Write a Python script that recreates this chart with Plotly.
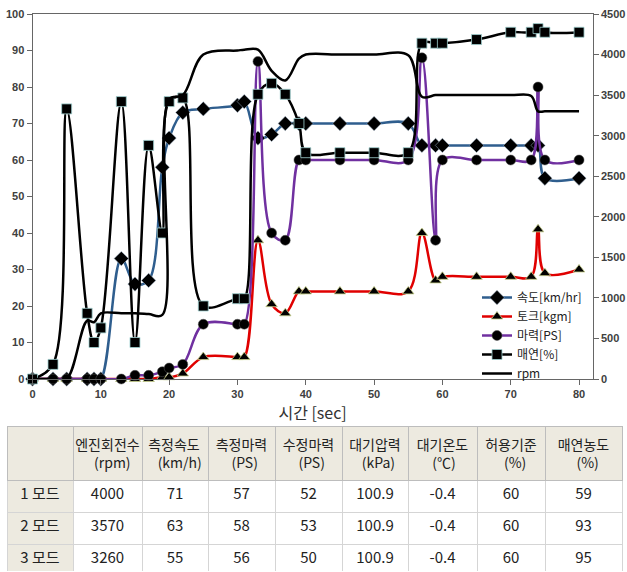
import plotly.graph_objects as go

# ---- time axis (seconds) shared by the measured series ----
time_s = [0, 3, 5, 8, 9, 10, 13, 15, 17, 19, 20, 22, 25, 30, 31, 33, 35, 37, 39, 40,
          45, 50, 55, 57, 59, 60, 65, 70, 73, 74, 75, 80]

speed_kmh = [0, 0, 0, 0, 0, 0, 33, 26, 27, 58, 66, 73, 74, 75, 76, 66, 67, 70, 70, 70,
             70, 70, 70, 64, 64, 64, 64, 64, 64, 64, 55, 55]
torque_kgm = [0, 0, 0, 0, 0, 0, 0, 0, 0, 0.5, 0.5, 1.5, 6, 6, 6, 38, 20.5, 18, 24, 24,
              24, 24, 24, 40, 27, 28, 28, 28, 28, 41, 29, 30]
power_ps = [0, 0, 0, 0, 0, 0, 0, 1, 1, 2, 3, 4, 15, 15, 15, 87, 40, 38, 60, 60,
            60, 60, 60, 88, 38, 60, 60, 60, 60, 80, 60, 60]
smoke_pct = [0, 4, 74, 18, 10, 14, 76, 10, 64, 40, 76, 77, 20, 22, 22, 78, 81, 78, 70, 62,
             62, 62, 62, 92, 92, 92, 93, 95, 95, 96, 95, 95]
rpm = [0, 0, 0, 720, 700, 810, 810, 810, 800, 790, 3450, 3500, 4000, 4050, 4060, 4060,
       3800, 3680, 3950, 4000, 4000, 4000, 3990, 3480, 3500, 3500, 3500, 3500, 3490, 3300,
       3300, 3300]

# ---- summary table ----
header_names = ["", "엔진회전수", "측정속도", "측정마력", "수정마력", "대기압력",
                "대기온도", "허용기준", "매연농도"]
header_units = ["", "(rpm)", "(km/h)", "(PS)", "(PS)", "(kPa)", "(℃)", "(%)", "(%)"]
modes = ["1 모드", "2 모드", "3 모드"]
engine_rpm = ["4000", "3570", "3260"]
meas_speed = ["71", "63", "55"]
meas_power = ["57", "58", "56"]
corr_power = ["52", "53", "50"]
air_pressure = ["100.9", "100.9", "100.9"]
air_temp = ["-0.4", "-0.4", "-0.4"]
limit_pct = ["60", "60", "60"]
smoke_density = ["59", "93", "95"]

# Approximate advance widths (1/1000 em) for the glyphs used in the header,
# so the second header line can be padded to sit centred under the first.
GLYPH_W = {"(": 291, ")": 291, "r": 332, "p": 553, "m": 834, "k": 484, "/": 343,
           "h": 549, "P": 573, "S": 530, "a": 514, "%": 830}
NBSP_W = 224


def text_width(s):
    return sum(GLYPH_W.get(c, 1000) for c in s)


def header_cell(name, unit):
    if not name:
        return ""
    pad = max(0, round((text_width(name) - text_width(unit)) / 2 / NBSP_W))
    return name + "<br>" + "\u00a0" * pad + unit


table_header = [header_cell(n, u) for n, u in zip(header_names, header_units)]

W, H = 627, 572
X0, X1 = 32.5, 592.7       # plot area, px
Y0, Y1 = 14, 379

fig = go.Figure()

common = dict(mode="lines+markers", line_shape="spline", cliponaxis=False)

fig.add_trace(go.Scatter(
    x=time_s, y=speed_kmh, name="속도[km/hr]", **common,
    line=dict(color="#2F5E8E", width=2.5),
    marker=dict(symbol="diamond", size=11, color="black",
                line=dict(color="#9fb3c8", width=0.5))))
fig.add_trace(go.Scatter(
    x=time_s, y=torque_kgm, name="토크[kgm]", **common,
    line=dict(color="#E00000", width=2.5),
    marker=dict(symbol="triangle-up", size=10, color="black",
                line=dict(color="#c8d08a", width=0.8))))
fig.add_trace(go.Scatter(
    x=time_s, y=power_ps, name="마력[PS]", **common,
    line=dict(color="#7030A0", width=2.5),
    marker=dict(symbol="circle", size=10, color="black",
                line=dict(color="#555555", width=0.5))))
fig.add_trace(go.Scatter(
    x=time_s, y=smoke_pct, name="매연[%]", **common,
    line=dict(color="black", width=2.5),
    marker=dict(symbol="square", size=10, color="black",
                line=dict(color="#9fd0d0", width=0.8))))
fig.add_trace(go.Scatter(
    x=time_s, y=rpm, name="rpm", mode="lines", line_shape="spline",
    yaxis="y2", line=dict(color="black", width=2.5)))

tickfont = dict(family="Liberation Sans, Arial, sans-serif", size=11,
                color="#404040", weight="bold")
axis_line = dict(showline=True, linecolor="#666666", linewidth=1, showgrid=False,
                 zeroline=False, ticks="outside", ticklen=5, tickcolor="#666666",
                 tickfont=tickfont, automargin=False)

fig.update_layout(
    width=W, height=H,
    margin=dict(l=0, r=0, t=0, b=0),
    paper_bgcolor="white", plot_bgcolor="white",
    showlegend=True,
    xaxis=dict(domain=[X0 / W, X1 / W], range=[0, 82], tickvals=list(range(0, 81, 10)),
               mirror=True,
               title=dict(text="시간 [sec]", standoff=0,
                          font=dict(family="Noto Sans CJK KR", size=16, color="#333333")),
               **axis_line),
    yaxis=dict(domain=[1 - Y1 / H, 1 - Y0 / H], range=[0, 100], dtick=10, **axis_line),
    yaxis2=dict(overlaying="y", side="right", range=[0, 4500], dtick=500, **axis_line),
    legend=dict(x=477 / W, y=1 - 388 / H, xanchor="left", yanchor="bottom",
                bgcolor="rgba(255,255,255,0)", borderwidth=0, tracegroupgap=0,
                font=dict(family="Noto Sans CJK KR", size=12, color="#222222"),
                itemwidth=30),
)

beige = "#EDEAE0"
fig.add_trace(go.Table(
    domain=dict(x=[7 / W, 622 / W], y=[0, 1 - 426 / H]),
    columnwidth=[66, 69, 66, 67, 67, 66, 69, 68, 77],
    header=dict(values=table_header, fill_color=beige, height=50,
                line=dict(color="#BDBDBD", width=1), align="center",
                font=dict(family="Noto Sans CJK KR", size=14, color="#222222")),
    cells=dict(values=[modes, engine_rpm, meas_speed, meas_power, corr_power,
                       air_pressure, air_temp, limit_pct, smoke_density],
               fill_color=[[beige] * 3] + [["white"] * 3] * 8,
               height=32, line=dict(color="#D5D5D5", width=1), align="center",
               font=dict(family="Noto Sans CJK KR", size=15, color="#222222")),
))

fig.write_html("out.html")
